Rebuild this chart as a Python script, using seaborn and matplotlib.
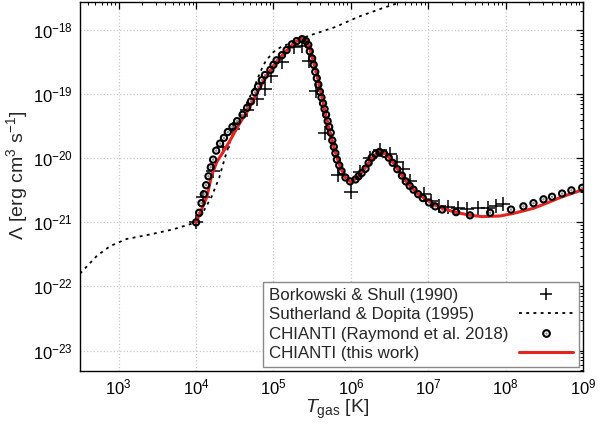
import numpy as np
import pandas as pd
import seaborn as sns
from matplotlib import pyplot as plt
from matplotlib.lines import Line2D
from matplotlib.ticker import LogLocator, FixedLocator, NullFormatter

# values, stored as log10 T [K] and log10 Lambda [erg cm^3 s^-1]

# Borkowski & Shull (1990)
bs_logt = [4.00, 4.09, 4.22, 4.35, 4.48, 4.66, 4.79, 4.89, 4.97, 5.11, 5.26, 5.37,
           5.46, 5.55, 5.66, 5.83, 6.00, 6.12, 6.25, 6.38, 6.51, 6.59, 6.68, 6.77,
           6.94, 7.03, 7.14, 7.25, 7.38, 7.50, 7.64, 7.77, 7.88, 7.96]
bs_logl = [-21.00, -20.61, -20.20, -19.82, -19.55, -19.24, -19.07, -18.92, -18.72, -18.50, -18.26, -18.24,
           -18.48, -18.95, -19.60, -20.26, -20.53, -20.22, -20.00, -19.87, -19.94, -20.05, -20.17, -20.36,
           -20.56, -20.67, -20.74, -20.76, -20.78, -20.79, -20.78, -20.77, -20.74, -20.72]

# Sutherland & Dopita (1995)
sd_logt = [2.50, 2.72, 2.89, 3.10, 3.40, 3.70, 4.00, 4.10, 4.20, 4.30, 4.37, 4.45, 4.53,
           4.65, 4.74, 4.83, 4.90, 5.00, 5.10, 5.25, 5.45, 5.60, 5.80, 6.10, 6.40, 7.00]
sd_logl = [-21.80, -21.52, -21.37, -21.26, -21.19, -21.11, -21.00, -20.82, -20.60, -20.30, -20.00, -19.70, -19.45,
           -19.15, -18.93, -18.65, -18.48, -18.34, -18.26, -18.19, -18.09, -18.03, -17.95, -17.79, -17.66, -17.42]

# CHIANTI (Raymond et al. 2018)
ch_logt = [4.00, 4.04, 4.07, 4.10, 4.13, 4.16, 4.19, 4.22, 4.26, 4.31, 4.36, 4.41, 4.47, 4.53, 4.60, 4.66, 4.71,
           4.76, 4.80, 4.85, 4.89, 4.96, 5.00, 5.04, 5.11, 5.17, 5.24, 5.30, 5.37,
           5.42, 5.45, 5.47, 5.50, 5.52, 5.54, 5.56, 5.58, 5.60, 5.62, 5.64, 5.66, 5.68, 5.70, 5.72, 5.74,
           5.76, 5.78, 5.80, 5.82, 5.85, 5.88, 5.93, 5.99,
           6.06, 6.10, 6.14, 6.19, 6.23, 6.27, 6.32, 6.37, 6.43, 6.49, 6.54, 6.60, 6.66, 6.71, 6.76, 6.81,
           6.87, 6.93, 7.01, 7.09, 7.18,
           7.36, 7.54, 7.80, 8.07, 8.23, 8.36, 8.49, 8.60, 8.73, 8.85, 8.99]
ch_logl = [-21.00, -20.85, -20.70, -20.56, -20.42, -20.28, -20.14, -20.02, -19.88, -19.77, -19.68, -19.59,
           -19.51, -19.42, -19.32, -19.21, -19.11,
           -18.97, -18.88, -18.78, -18.70, -18.62, -18.54, -18.47, -18.39, -18.31, -18.22, -18.17, -18.14,
           -18.17, -18.23, -18.33, -18.44, -18.54, -18.65, -18.75, -18.85, -18.96, -19.05, -19.14, -19.23,
           -19.32, -19.42, -19.51, -19.60, -19.72, -19.82, -19.92, -20.02, -20.11, -20.20, -20.30, -20.36,
           -20.33, -20.28, -20.23, -20.16, -20.07, -19.99, -19.93, -19.90, -19.93, -19.99, -20.07, -20.17,
           -20.27, -20.36, -20.43, -20.49, -20.56, -20.62, -20.69, -20.75, -20.80,
           -20.84, -20.89, -20.85, -20.80, -20.75, -20.70, -20.64, -20.60, -20.55, -20.50, -20.46]

# CHIANTI (this work)
tw_logt = [4.00, 4.07, 4.14, 4.20, 4.27, 4.34, 4.44, 4.57, 4.66, 4.72, 4.80, 4.90, 5.00, 5.10, 5.20, 5.30,
           5.37, 5.42, 5.47, 5.52, 5.57, 5.62, 5.67, 5.73, 5.80, 5.86, 5.93, 6.00, 6.10, 6.20, 6.30, 6.37,
           6.45, 6.55, 6.65, 6.75, 6.87, 7.00, 7.20, 7.38, 7.55, 7.70, 7.93, 8.10, 8.36, 8.55, 8.71, 8.85, 9.00]
tw_logl = [-21.00, -20.80, -20.60, -20.27, -20.05, -19.92, -19.72, -19.44, -19.27, -19.14, -18.95, -18.74,
           -18.56, -18.41, -18.28, -18.17, -18.12, -18.15, -18.28, -18.50, -18.72, -19.00, -19.30, -19.60,
           -19.90, -20.12, -20.30, -20.37, -20.28, -20.12, -19.96, -19.90, -19.93, -20.07, -20.25, -20.41,
           -20.56, -20.66, -20.79, -20.85, -20.89, -20.91, -20.90, -20.86, -20.78, -20.69, -20.61, -20.55, -20.49]

labels = ['Borkowski & Shull (1990)', 'Sutherland & Dopita (1995)',
          'CHIANTI (Raymond et al. 2018)', 'CHIANTI (this work)']

# labelled decades on each axis
x_decades = [1e3, 1e4, 1e5, 1e6, 1e7, 1e8, 1e9]
y_decades = [1e-23, 1e-22, 1e-21, 1e-20, 1e-19, 1e-18]

red = '#e8231e'
dots = (0, (1.6, 2.4))


def to_df(logt, logl):
    return pd.DataFrame({'T': 10.0 ** np.array(logt), 'L': 10.0 ** np.array(logl)})


bs = to_df(bs_logt, bs_logl)
sd = to_df(sd_logt, sd_logl)
ch = to_df(ch_logt, ch_logl)
tw = to_df(tw_logt, tw_logl)

sns.set_style('white')
plt.rcParams['font.family'] = ['Liberation Sans', 'DejaVu Sans']
plt.rcParams['mathtext.fontset'] = 'custom'
plt.rcParams['mathtext.rm'] = 'Liberation Sans'
plt.rcParams['mathtext.it'] = 'Liberation Sans:italic'
plt.rcParams['mathtext.bf'] = 'Liberation Sans:bold'

fig = plt.figure(figsize=(5.98, 4.24), dpi=100)
ax = fig.add_axes([80 / 598, 53 / 424, 503 / 598, 369 / 424])
ax.set_xscale('log')
ax.set_yscale('log')

sns.scatterplot(data=bs, x='T', y='L', marker='+', s=90, color='black', linewidth=1.1, ax=ax, zorder=3)
sns.lineplot(data=sd, x='T', y='L', sort=False, estimator=None, color='black', linewidth=1.3,
             linestyle=dots, ax=ax, zorder=2)
sns.scatterplot(data=ch, x='T', y='L', marker='o', s=3, color='0.55', edgecolor='none', ax=ax, zorder=3)
sns.lineplot(data=tw, x='T', y='L', sort=False, estimator=None, color=red, linewidth=2.2, ax=ax, zorder=4)
sns.scatterplot(data=ch, x='T', y='L', marker='o', s=20, color='black', facecolor='none',
                edgecolor='black', linewidth=1.5, ax=ax, zorder=5)

ax.set_xlim(10 ** 2.5, 1e9)
ax.set_ylim(10 ** -23.32, 10 ** -17.56)

ax.xaxis.set_major_locator(FixedLocator(x_decades))
ax.yaxis.set_major_locator(FixedLocator(y_decades))
for axis in (ax.xaxis, ax.yaxis):
    axis.set_minor_locator(LogLocator(base=10, subs=np.arange(2, 10), numticks=20))
    axis.set_minor_formatter(NullFormatter())

ax.tick_params(which='both', direction='in', top=True, right=True, labelsize=12, colors='black')
ax.tick_params(which='major', length=5, width=0.9, pad=5)
ax.tick_params(which='minor', length=2.5, width=0.7)
ax.grid(which='major', color='#c8c8c8', linestyle=':', linewidth=0.9)
ax.grid(which='minor', visible=False)
for sp in ax.spines.values():
    sp.set_color('black')
    sp.set_linewidth(1.0)

ax.set_xlabel(r'$T_{\mathrm{gas}}$ [K]', fontsize=14)
ax.set_ylabel(r'$\Lambda$ [erg cm$^{3}$ s$^{-1}$]', fontsize=14)
ax.xaxis.set_label_coords(0.511, -0.073)
ax.yaxis.set_label_coords(-0.099, 0.53)

ring = Line2D([], [], ls='none', marker='o', ms=4.8, mfc='none', mec='black', mew=1.5)
dot = Line2D([], [], ls='none', marker='o', ms=1.6, mfc='0.55', mec='none')
handles = [Line2D([], [], ls='none', marker='+', ms=9, mew=1.1, color='black'),
           Line2D([], [], color='black', lw=1.3, ls=dots),
           (ring, dot),
           Line2D([], [], color=red, lw=2.2)]
leg = ax.legend(handles, labels, loc='lower right', bbox_to_anchor=(1, 0), markerfirst=False,
                fontsize=12.2, frameon=True, fancybox=False, framealpha=1, edgecolor='#8a8a8a',
                handlelength=3.2, handletextpad=0.6, labelspacing=0.25, borderpad=0.35, borderaxespad=0.25)
leg.get_frame().set_linewidth(1.0)

# gnuplot-style key: texts left-justified, samples lined up on the right
fig.canvas.draw()
rend = fig.canvas.get_renderer()
widths = [t.get_window_extent(rend).width for t in leg.get_texts()]
rows = leg._legend_handle_box.get_children()[0].get_children()
for row, w in zip(rows, widths):
    row.sep += (max(widths) - w) * 72 / fig.dpi

fig.savefig('out.png', dpi=100)
